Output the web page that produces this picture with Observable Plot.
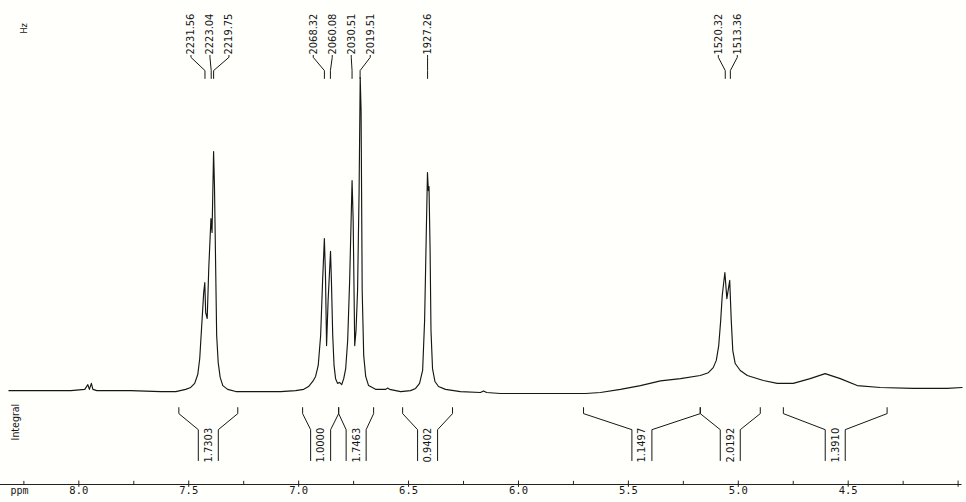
<!DOCTYPE html>
<html>
<head>
<meta charset="utf-8">
<script src="https://cdn.jsdelivr.net/npm/d3@7"></script>
<script src="https://cdn.jsdelivr.net/npm/@observablehq/plot@0.6"></script>
<style>
  html, body { margin: 0; padding: 0; background: #fffffc; }
  #chart { width: 966px; height: 502px; overflow: hidden; }
</style>
</head>
<body>
<div id="chart"></div>
<script>
// 1H NMR spectrum, 300 MHz; chemical shift (ppm) against relative intensity (% of tallest line)
const ppm = [
  8.318, 8.173, 8.036, 7.973, 7.959, 7.952, 7.943, 7.936, 7.918, 7.764,
  7.627, 7.559, 7.514, 7.491, 7.473, 7.459, 7.450, 7.441, 7.432, 7.427,
  7.423, 7.416, 7.409, 7.399, 7.394, 7.387, 7.383, 7.377, 7.373, 7.366,
  7.357, 7.345, 7.323, 7.286, 7.173, 7.082, 7.014, 6.977, 6.955, 6.936,
  6.923, 6.911, 6.900, 6.891, 6.883, 6.878, 6.873, 6.866, 6.855, 6.851,
  6.845, 6.839, 6.832, 6.823, 6.814, 6.804, 6.795, 6.786, 6.777, 6.768,
  6.757, 6.752, 6.745, 6.739, 6.732, 6.725, 6.720, 6.716, 6.711, 6.704,
  6.695, 6.682, 6.650, 6.604, 6.595, 6.586, 6.536, 6.491, 6.468, 6.450,
  6.436, 6.427, 6.420, 6.414, 6.410, 6.407, 6.402, 6.398, 6.391, 6.380,
  6.364, 6.332, 6.264, 6.173, 6.159, 6.145, 6.082, 5.945, 5.809, 5.695,
  5.627, 5.536, 5.445, 5.354, 5.263, 5.173, 5.136, 5.114, 5.100, 5.089,
  5.080, 5.073, 5.061, 5.052, 5.039, 5.032, 5.025, 5.014, 4.991, 4.959,
  4.886, 4.823, 4.750, 4.673, 4.605, 4.536, 4.459, 4.354, 4.205, 4.050,
  3.982
];
const intensity = [
  0.6, 0.6, 0.6, 1.0, 2.5, 1.0, 2.9, 1.0, 0.6, 0.6,
  0.3, 0.3, 1.0, 1.6, 2.9, 5.7, 10.8, 21.3, 31.7, 34.9,
  25.4, 23.5, 39.4, 55.2, 50.8, 76.5, 65.7, 37.1, 18.1, 9.5,
  4.8, 2.2, 1.0, 0.3, 0.3, 0.3, 0.6, 1.0, 1.9, 3.5,
  5.1, 8.6, 18.1, 35.6, 48.9, 37.1, 14.9, 29.2, 44.8, 35.6,
  18.1, 8.6, 4.4, 2.9, 3.2, 2.5, 4.4, 7.6, 16.5, 35.6,
  67.3, 54.6, 14.9, 19.7, 32.4, 64.1, 100.0, 89.5, 32.4, 11.7,
  5.1, 2.2, 1.0, 1.0, 1.4, 1.0, 0.3, 0.6, 1.3, 2.9,
  7.0, 22.9, 48.3, 69.8, 64.1, 65.4, 45.1, 19.7, 7.6, 3.5,
  1.9, 1.0, 0.3, 0.0, 0.5, 0.0, -0.3, -0.3, -0.3, -0.3,
  0.0, 1.0, 2.2, 3.7, 4.4, 5.4, 6.3, 7.9, 10.2, 14.9,
  22.9, 30.8, 38.1, 29.8, 35.6, 22.9, 13.3, 9.2, 7.0, 5.4,
  3.8, 2.9, 2.9, 4.4, 6.0, 4.4, 2.2, 1.6, 1.3, 1.3,
  1.6
];

// Peak picks (Hz)
const SF = 300.5; // spectrometer frequency, MHz
const peakHz = [2231.56, 2223.04, 2219.75, 2068.32, 2060.08, 2030.51, 2019.51, 1927.26, 1520.32, 1513.36];

// Integral regions (ppm) and their values
const integralFrom  = [7.545, 6.982, 6.818, 6.527, 5.704, 5.173, 4.795];
const integralTo    = [7.277, 6.818, 6.659, 6.300, 5.173, 4.900, 4.323];
const integralValue = [1.7303, 1.0000, 1.7463, 0.9402, 1.1497, 2.0192, 1.3910];

// Axis ticks
const majorTicks = [8.0, 7.5, 7.0, 6.5, 6.0, 5.5, 5.0, 4.5, 4.0];
const majorTickLabels = ["8.0", "7.5", "7.0", "6.5", "6.0", "5.5", "5.0", "4.5", ""];
const minorTicks = [8.25, 7.75, 7.25, 6.75, 6.25, 5.75, 5.25, 4.75, 4.25];

// ---- layout ----
const W = 966, H = 502;
const mLeft = 8, mRight = 4, mTop = 77, mBottom = 18;
const xDomain = [8.32, 3.98];
const yDomain = [-29.2, 100];
const pxPerPpm = (W - mLeft - mRight) / (xDomain[0] - xDomain[1]);

// vertical bands, in intensity units (above the tallest line for peak picks, below the baseline for integrals)
const labelFoot = 107.3, leaderKnee = 106.4, leaderElbow = 102.2, leaderEnd = 99.7;
const hookTop = -4.8, armTop = -6.7, boxTop = -11.8, boxBottom = -21.6, boxText = -16.7;

const narrow = '"Liberation Sans Narrow", "DejaVu Sans Condensed", "Arial Narrow", sans-serif';
const mono = '"DejaVu Sans Mono", "Liberation Mono", monospace';
const ink = "#161616";

const spectrum = ppm.map((p, i) => ({ppm: p, intensity: intensity[i]}));

// Peak-pick labels: spread overlapping labels evenly around their group centre
const labelGap = 19 / pxPerPpm;
const peaks = peakHz.map(hz => ({hz, ppm: hz / SF}));
const clusters = [];
for (const p of peaks) {
  clusters.push({items: [p], c: p.ppm});
  while (clusters.length > 1) {
    const b = clusters[clusters.length - 1], a = clusters[clusters.length - 2];
    const aLow = a.c - (a.items.length - 1) / 2 * labelGap;
    const bHigh = b.c + (b.items.length - 1) / 2 * labelGap;
    if (aLow - bHigh < labelGap) {
      const items = a.items.concat(b.items);
      clusters.splice(clusters.length - 2, 2, {items, c: d3.mean(items, d => d.ppm)});
    } else break;
  }
}
for (const cl of clusters) {
  const n = cl.items.length;
  cl.items.forEach((p, i) => { p.labelPpm = cl.c + ((n - 1) / 2 - i) * labelGap; });
}
const leaders = peaks.flatMap((p, i) => [
  {id: i, x: p.labelPpm, y: leaderKnee + 0.6},
  {id: i, x: p.labelPpm, y: leaderKnee},
  {id: i, x: p.ppm, y: leaderElbow},
  {id: i, x: p.ppm, y: leaderEnd}
]);

// Integral brackets
const boxHalf = 10 / pxPerPpm;
const integrals = integralValue.map((v, i) => {
  const from = integralFrom[i], to = integralTo[i];
  return {value: v, from, to, mid: (from + to) / 2};
});
const integralArms = integrals.flatMap((d, i) => {
  const xl = d.mid + boxHalf, xr = d.mid - boxHalf;
  return [
    {id: `${i}L`, x: d.from, y: hookTop},
    {id: `${i}L`, x: d.from, y: armTop},
    {id: `${i}L`, x: xl, y: boxTop},
    {id: `${i}L`, x: xl, y: boxBottom},
    {id: `${i}R`, x: xr, y: boxBottom},
    {id: `${i}R`, x: xr, y: boxTop},
    {id: `${i}R`, x: d.to, y: armTop},
    {id: `${i}R`, x: d.to, y: hookTop}
  ];
});

const chart = Plot.plot({
  width: W,
  height: H,
  marginLeft: mLeft,
  marginRight: mRight,
  marginTop: mTop,
  marginBottom: mBottom,
  x: {domain: xDomain, axis: null},
  y: {domain: yDomain, axis: null},
  style: {background: "#fffffc", color: ink, overflow: "visible"},
  marks: [
    // spectrum trace
    Plot.line(spectrum, {x: "ppm", y: "intensity", stroke: ink, strokeWidth: 1.15, curve: "linear"}),

    // peak picks
    Plot.line(leaders, {x: "x", y: "y", z: "id", stroke: ink, strokeWidth: 1}),
    Plot.text(peaks, {
      x: "labelPpm", y: labelFoot, text: d => d.hz.toFixed(2),
      rotate: -90, textAnchor: "start", fontFamily: narrow, fontSize: 11, fill: ink
    }),
    Plot.text(["Hz"], {
      frameAnchor: "top-left", dx: 12, dy: -44, text: d => d,
      rotate: -90, fontFamily: narrow, fontSize: 9, fill: ink
    }),

    // integrals
    Plot.line(integralArms, {x: "x", y: "y", z: "id", stroke: ink, strokeWidth: 1}),
    Plot.text(integrals, {
      x: "mid", y: boxText, text: d => d.value.toFixed(4),
      rotate: -90, fontFamily: narrow, fontSize: 11, fill: ink
    }),
    Plot.text(["Integral"], {
      frameAnchor: "left", y: -15.2, dx: 7, text: d => d,
      rotate: -90, fontFamily: narrow, fontSize: 10.5, fill: ink
    }),

    // ppm axis
    Plot.ruleY([yDomain[0]], {x1: 8.36, x2: 3.982, stroke: "#222", strokeWidth: 1}),
    Plot.ruleX(majorTicks, {x: d => d, y1: -30.1, y2: -28.1, stroke: "#222", strokeWidth: 1}),
    Plot.ruleX(minorTicks, {x: d => d, y1: -29.2, y2: -28.2, stroke: "#222", strokeWidth: 1}),
    Plot.text(majorTicks, {
      x: d => d, text: (d, i) => majorTickLabels[i], frameAnchor: "bottom", dy: 9,
      fontFamily: mono, fontSize: 10.5, fill: ink
    }),
    Plot.text(["ppm"], {
      frameAnchor: "bottom-left", dx: 2, dy: 9, text: d => d, textAnchor: "start",
      fontFamily: mono, fontSize: 10, fill: ink
    })
  ]
});

document.getElementById("chart").append(chart);
</script>
</body>
</html>
